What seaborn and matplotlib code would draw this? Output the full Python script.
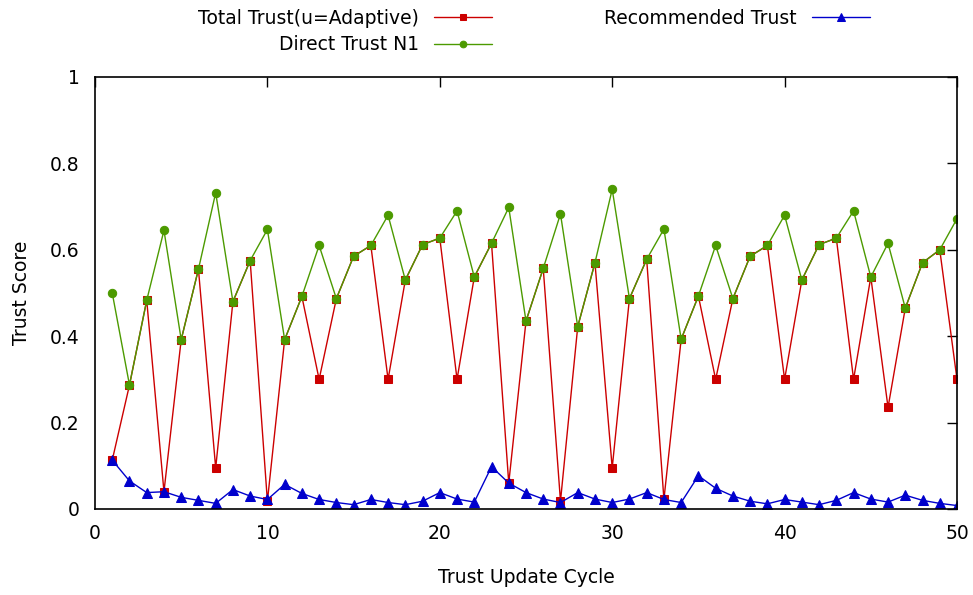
import matplotlib
matplotlib.use("Agg")
import matplotlib.pyplot as plt
import seaborn as sns
import numpy as np
import pandas as pd

cycles = list(range(1, 51))

direct_trust = [0.500, 0.287, 0.483, 0.645, 0.392, 0.555, 0.732, 0.480, 0.575, 0.647,
                0.392, 0.492, 0.610, 0.487, 0.585, 0.610, 0.680, 0.530, 0.612, 0.627,
                0.690, 0.537, 0.615, 0.698, 0.435, 0.557, 0.683, 0.422, 0.570, 0.740,
                0.487, 0.578, 0.648, 0.393, 0.493, 0.610, 0.487, 0.585, 0.610, 0.680,
                0.530, 0.612, 0.627, 0.690, 0.537, 0.615, 0.465, 0.570, 0.600, 0.672]

total_trust = [0.113, 0.287, 0.483, 0.040, 0.392, 0.555, 0.095, 0.480, 0.575, 0.018,
               0.392, 0.492, 0.300, 0.487, 0.585, 0.610, 0.300, 0.530, 0.612, 0.627,
               0.300, 0.537, 0.615, 0.060, 0.435, 0.557, 0.018, 0.422, 0.570, 0.095,
               0.487, 0.578, 0.022, 0.393, 0.493, 0.300, 0.487, 0.585, 0.610, 0.300,
               0.530, 0.612, 0.627, 0.300, 0.537, 0.235, 0.465, 0.570, 0.600, 0.300]

recommended_trust = [0.113, 0.065, 0.038, 0.040, 0.027, 0.020, 0.013, 0.045, 0.030, 0.022,
                     0.057, 0.036, 0.022, 0.015, 0.010, 0.022, 0.015, 0.010, 0.018, 0.038,
                     0.023, 0.016, 0.098, 0.060, 0.038, 0.023, 0.015, 0.038, 0.023, 0.015,
                     0.023, 0.038, 0.022, 0.015, 0.077, 0.048, 0.030, 0.018, 0.012, 0.022,
                     0.016, 0.010, 0.020, 0.038, 0.023, 0.016, 0.032, 0.020, 0.013, 0.008]

labels = ["Total Trust(u=Adaptive)", "Direct Trust N1", "Recommended Trust"]
x_ticks = [0, 10, 20, 30, 40, 50]
y_ticks = [0, 0.2, 0.4, 0.6, 0.8, 1]
y_tick_labels = ["0", "0.2", "0.4", "0.6", "0.8", "1"]

sns.set_theme(style="white")
plt.rcParams['font.family'] = ['DejaVu Sans']
plt.rcParams['text.color'] = 'black'
plt.rcParams['axes.labelcolor'] = 'black'

fs = 13.5
fig = plt.figure(figsize=(9.73, 5.95), dpi=100)
ax = fig.add_axes([95/973, 1-509/595, (957-95)/973, (509-77)/595])

df = pd.DataFrame({"cycle": cycles, "total": total_trust,
                   "direct": direct_trust, "rec": recommended_trust})

red = "#cc0000"
green = "#4c9a00"
blue = "#0000cc"

sns.lineplot(data=df, x="cycle", y="total", ax=ax, color=red, marker="s",
             markersize=6, markeredgecolor=red, linewidth=1.0, label=labels[0], sort=False)
sns.lineplot(data=df, x="cycle", y="direct", ax=ax, color=green, marker="o",
             markersize=6, markeredgecolor=green, linewidth=1.0, label=labels[1], sort=False)
sns.lineplot(data=df, x="cycle", y="rec", ax=ax, color=blue, marker="^",
             markersize=6.5, markeredgecolor=blue, linewidth=1.0, label=labels[2], sort=False)

ax.set_xlim(0, 50)
ax.set_ylim(0, 1)
ax.set_xticks(x_ticks)
ax.set_yticks(y_ticks)
ax.set_yticklabels(y_tick_labels)
ax.tick_params(axis="both", which="major", direction="in", length=7, width=1.0,
               top=True, right=True, labelsize=fs, colors="black", labelcolor="black", pad=11)
for s in ax.spines.values():
    s.set_visible(True)
    s.set_color("black")
    s.set_linewidth(1.2)
ax.grid(False)
ax.set_xlabel("Trust Update Cycle", fontsize=fs, labelpad=18, color="black")
ax.set_ylabel("Trust Score", fontsize=fs, labelpad=14, color="black")

handles, lbls = ax.get_legend_handles_labels()
leg = ax.legend(handles, lbls, ncol=2, markerfirst=False, frameon=False, fontsize=fs,
                loc="upper left", bbox_to_anchor=(198/973, 1-9/595), bbox_transform=fig.transFigure,
                borderpad=0, borderaxespad=0, handlelength=3.1, handletextpad=0.8,
                columnspacing=6.0, labelspacing=0.38, markerscale=0.8)
for t in leg.get_texts():
    t.set_color("black")

fig.savefig("out.png", dpi=100)
